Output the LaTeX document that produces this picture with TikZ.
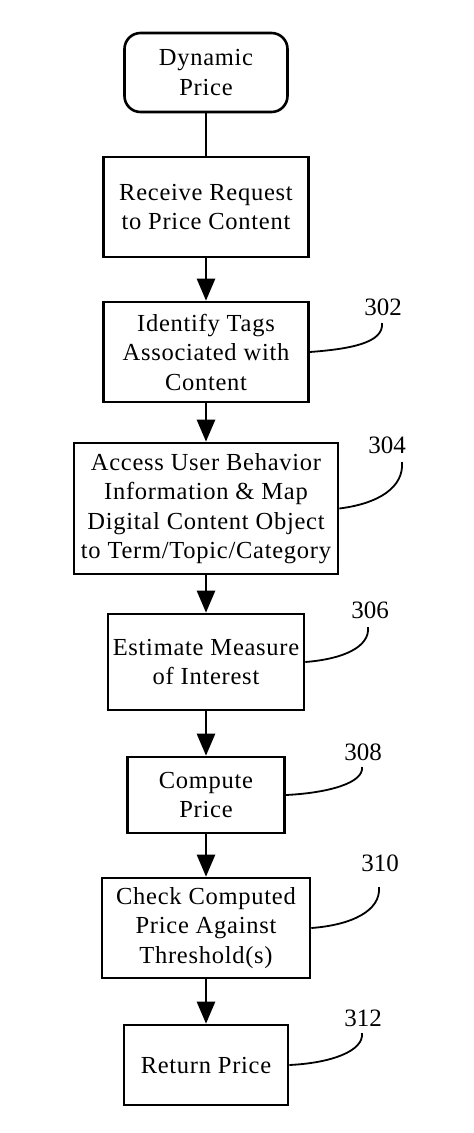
\documentclass[tikz,border=0pt]{standalone}
\usepackage{fontspec}
\setmainfont{Liberation Serif}[LetterSpace=3]
\newfontfamily\labfont{Liberation Serif}
\usetikzlibrary{arrows.meta}
\begin{document}
\begin{tikzpicture}[x=1pt,y=-1pt,
  stepbox/.style={draw=black, line width=2.6pt, inner sep=0pt, align=center,
    font=\fontsize{24.5}{29.5}\selectfont},
  conn/.style={line width=2.6pt, -{Triangle[width=18pt,length=22pt]}},
  plainconn/.style={line width=2.6pt},
  lead/.style={line width=1.8pt},
  reflabel/.style={font=\labfont\fontsize{25}{25}\selectfont, inner sep=0pt}]
\useasboundingbox[fill=white] (0,0) rectangle (474,1133);

\node[stepbox, rounded corners=16pt, minimum width=163pt, minimum height=79pt] (b1) at (206,72.5) {Dynamic\\Price};
\node[stepbox, minimum width=205pt, minimum height=100pt] (b2) at (206,207) {Receive Request\\to Price Content};
\node[stepbox, minimum width=205pt, minimum height=100pt] (b3) at (206,352) {Identify Tags\\Associated with\\Content};
\node[stepbox, minimum width=264pt, minimum height=131pt] (b4) at (206,508.5) {Access User Behavior\\Information \& Map\\Digital Content Object\\to Term/Topic/Category};
\node[stepbox, minimum width=196pt, minimum height=96pt] (b5) at (206,662) {Estimate Measure\\of Interest};
\node[stepbox, minimum width=157pt, minimum height=76pt] (b6) at (206,795) {Compute\\Price};
\node[stepbox, minimum width=208pt, minimum height=100pt] (b7) at (206,928) {Check Computed\\Price Against\\Threshold(s)};
\node[stepbox, minimum width=164pt, minimum height=80pt] (b8) at (206,1065) {Return Price};

\draw[plainconn] (b1.south) -- (b2.north);
\draw[conn] (b2.south) -- (b3.north);
\draw[conn] (b3.south) -- (b4.north);
\draw[conn] (b4.south) -- (b5.north);
\draw[conn] (b5.south) -- (b6.north);
\draw[conn] (b6.south) -- (b7.north);
\draw[conn] (b7.south) -- (b8.north);

\node[reflabel] (l302) at (383,307) {302};
\node[reflabel] (l304) at (387,445) {304};
\node[reflabel] (l306) at (370,610) {306};
\node[reflabel] (l308) at (363,752) {308};
\node[reflabel] (l310) at (380,863) {310};
\node[reflabel] (l312) at (363,1018) {312};

\coordinate (e302) at (382,323);
\coordinate (e304) at (402,462);
\coordinate (e306) at (368,627);
\coordinate (e308) at (362,767);
\coordinate (e310) at (379,887);
\coordinate (e312) at (362,1033);

\draw[lead] (b3.east) .. controls +(40,-3) and +(2,20) .. (e302);
\draw[lead] (b4.east) .. controls +(40,-5) and +(2,25) .. (e304);
\draw[lead] (b5.east) .. controls +(38,-3) and +(2,20) .. (e306);
\draw[lead] (b6.east) .. controls +(42,-2) and +(2,16) .. (e308);
\draw[lead] (b7.east) .. controls +(40,-3) and +(2,24) .. (e310);
\draw[lead] (b8.east) .. controls +(42,-2) and +(2,18) .. (e312);
\end{tikzpicture}
\end{document}
